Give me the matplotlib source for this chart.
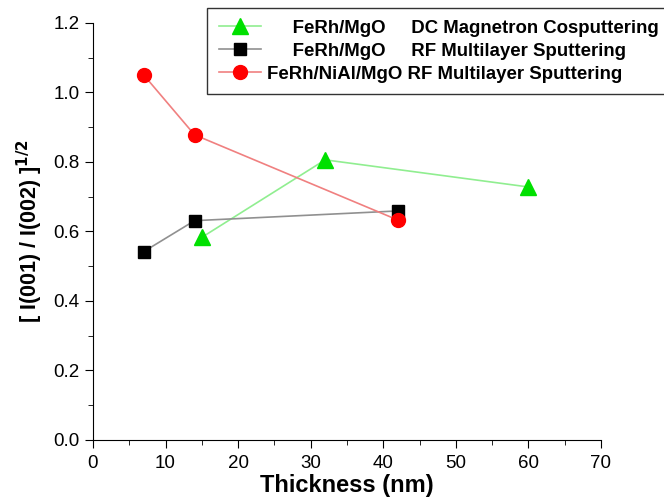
import matplotlib.pyplot as plt
from matplotlib.ticker import MultipleLocator

plt.rcParams['font.family'] = ['Liberation Sans', 'DejaVu Sans']

# data
dc_x = [15, 32, 60]
dc_y = [0.583, 0.806, 0.728]

rf_x = [7, 14, 42]
rf_y = [0.542, 0.631, 0.659]

nial_x = [7, 14, 42]
nial_y = [1.050, 0.878, 0.633]

labels = [
    "     FeRh/MgO     DC Magnetron Cosputtering",
    "     FeRh/MgO     RF Multilayer Sputtering",
    "FeRh/NiAl/MgO RF Multilayer Sputtering",
]

fig = plt.figure(figsize=(6.64, 4.98), dpi=100)
ax = fig.add_axes([0.14, 0.1165, 0.765, 0.8375])

ax.plot(dc_x, dc_y, color='#90ee90', lw=1.2, marker='^', ms=11,
        mfc='#00e000', mec='#00e000', label=labels[0])
ax.plot(rf_x, rf_y, color='#909090', lw=1.2, marker='s', ms=9,
        mfc='black', mec='black', label=labels[1])
ax.plot(nial_x, nial_y, color='#f08080', lw=1.2, marker='o', ms=10,
        mfc='#ff0000', mec='#ff0000', label=labels[2])

ax.set_xlim(0, 70)
ax.set_ylim(0, 1.2)
ax.xaxis.set_major_locator(MultipleLocator(10))
ax.xaxis.set_minor_locator(MultipleLocator(5))
ax.yaxis.set_major_locator(MultipleLocator(0.2))
ax.yaxis.set_minor_locator(MultipleLocator(0.1))
ax.yaxis.set_major_formatter(plt.FormatStrFormatter('%.1f'))
ax.spines['top'].set_visible(False)
ax.spines['right'].set_visible(False)
ax.tick_params(which='major', direction='out', length=6, labelsize=13.5)
ax.tick_params(axis='x', which='major', pad=5)
ax.tick_params(which='minor', direction='out', length=3.5)

ax.set_xlabel("Thickness (nm)", fontsize=17, fontweight='bold', labelpad=1)
ax.set_ylabel(r"[ I(001) / I(002) ]$^{\mathbf{1/2}}$", fontsize=15.5,
              fontweight='bold', labelpad=6)

leg = fig.legend(loc='upper left', bbox_to_anchor=(207 / 664, 1 - 8 / 498),
                 bbox_transform=fig.transFigure, fancybox=False,
                 prop={'weight': 'bold', 'size': 13.4}, handlelength=2.3,
                 labelspacing=0.32, borderpad=0.62, handletextpad=0.3,
                 borderaxespad=0, framealpha=1)
leg.get_frame().set_edgecolor('#333333')
leg.get_frame().set_linewidth(1.0)

fig.savefig("out.png", dpi=100)
